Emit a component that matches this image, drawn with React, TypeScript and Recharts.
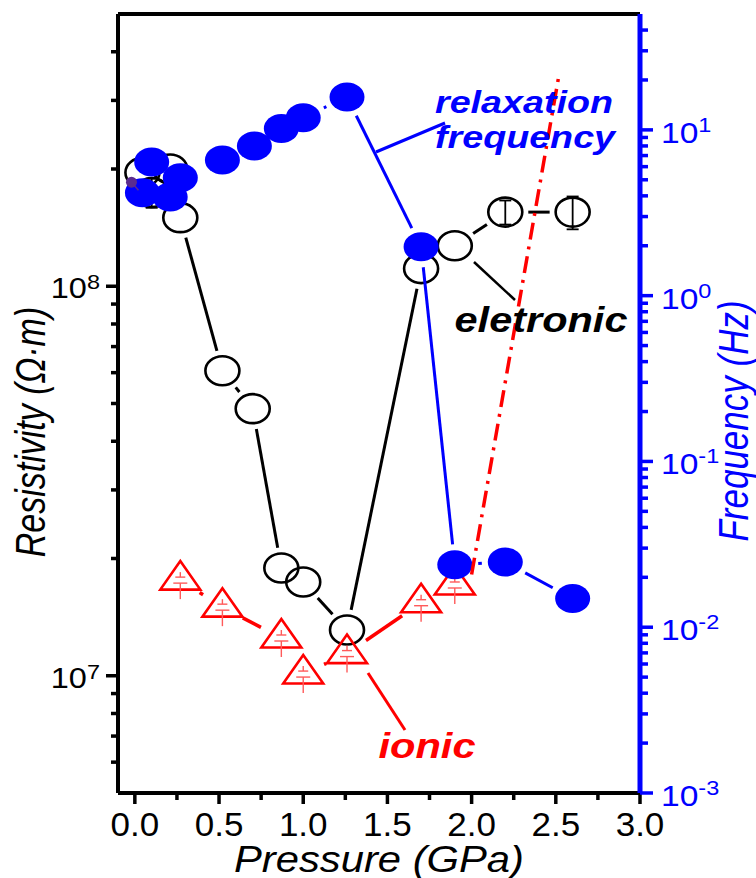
import React from 'react';
import { ComposedChart, Scatter, XAxis, YAxis, ErrorBar, ReferenceLine } from 'recharts';

const FONT = '"Liberation Sans", Arial, Helvetica, sans-serif';
const BLUE = '#0000ff';
const RED = '#ff0000';

// electronic resistivity (open circles), Ohm*m
const elecPressure = [0.045, 0.1, 0.21, 0.27, 0.52, 0.7, 0.87, 1.0, 1.26, 1.7, 1.9, 2.2, 2.6];
const elecRes = [1.96e8, 1.74e8, 2.0e8, 1.5e8, 6.07e7, 4.85e7, 1.89e7, 1.74e7, 1.31e7, 1.11e8, 1.27e8, 1.55e8, 1.55e8];
const elecErr = [0, 1.5e7, 0, 0, 0, 0, 0, 0, 0, 0, 0, 1.1e7, 1.5e7];

// ionic resistivity (open triangles)
const ionPressure = [0.27, 0.52, 0.87, 1.0, 1.26, 1.7, 1.9];
const ionRes = [1.76e7, 1.5e7, 1.25e7, 1.01e7, 1.14e7, 1.54e7, 1.71e7];

// relaxation frequency (filled circles), Hz
const freqPressure = [0.045, 0.1, 0.21, 0.27, 0.52, 0.71, 0.87, 1.0, 1.26, 1.7, 1.9, 2.2, 2.6];
const freqHz = [4.17, 6.41, 3.93, 5.14, 6.59, 8.0, 10.2, 11.85, 15.8, 1.97, 0.0238, 0.0247, 0.0149];

// dash-dot extrapolation
const trendPressure = [2.0, 2.52];
const trendRes = [1.82e7, 3.51e8];

// small purple point at the origin
const markPressure = [-0.02];
const markRes = [1.85e8];

const xTicks = [0, 0.25, 0.5, 0.75, 1, 1.25, 1.5, 1.75, 2, 2.25, 2.5, 2.75, 3];
const xMajor = [0, 0.5, 1, 1.5, 2, 2.5, 3];
const leftTicks = [6e6, 7e6, 8e6, 9e6, 1e7, 2e7, 3e7, 4e7, 5e7, 6e7, 7e7, 8e7, 9e7, 1e8, 2e8, 3e8, 4e8];
const leftMajor = [1e7, 1e8];
const rightTicks = [
  1e-3, 2e-3, 3e-3, 4e-3, 5e-3, 6e-3, 7e-3, 8e-3, 9e-3,
  1e-2, 2e-2, 3e-2, 4e-2, 5e-2, 6e-2, 7e-2, 8e-2, 9e-2,
  1e-1, 2e-1, 3e-1, 4e-1, 5e-1, 6e-1, 7e-1, 8e-1, 9e-1,
  1, 2, 3, 4, 5, 6, 7, 8, 9,
  10, 20, 30, 40,
];
const rightMajor = [1e-3, 1e-2, 1e-1, 1, 10];

const elecData = elecPressure.map((p, i) => ({ x: p, y: elecRes[i], err: elecErr[i] }));
const elecErrData = elecData.filter((d) => d.err > 0);
const ionData = ionPressure.map((p, i) => ({ x: p, y: ionRes[i] }));
const freqData = freqPressure.map((p, i) => ({ x: p, y: freqHz[i] }));
const trendData = trendPressure.map((p, i) => ({ x: p, y: trendRes[i] }));
const markData = markPressure.map((p, i) => ({ x: p, y: markRes[i] }));

// Origin-style connecting line that stops short of each symbol
const gapLine = (color: string, width: number, rx: number, ry: number, extra: number) => (props: any) => {
  const pts = (props.points || []).map((p: any) => ({ x: p.x ?? p.cx, y: p.y ?? p.cy }));
  const segs = [];
  for (let i = 0; i < pts.length - 1; i++) {
    const a = pts[i];
    const b = pts[i + 1];
    const dx = b.x - a.x;
    const dy = b.y - a.y;
    const d = Math.hypot(dx, dy);
    if (!d) continue;
    const ux = dx / d;
    const uy = dy / d;
    const r = 1 / Math.sqrt((ux / rx) ** 2 + (uy / ry) ** 2) + extra;
    if (d <= 2 * r) continue;
    segs.push(
      <line key={i} x1={a.x + ux * r} y1={a.y + uy * r} x2={b.x - ux * r} y2={b.y - uy * r}
        stroke={color} strokeWidth={width} />
    );
  }
  return <g>{segs}</g>;
};

const dashLine = (props: any) => {
  const pts = (props.points || []).map((p: any) => ({ x: p.x ?? p.cx, y: p.y ?? p.cy }));
  const d = pts.map((p: any, i: number) => `${i ? 'L' : 'M'}${p.x},${p.y}`).join(' ');
  return <path d={d} fill="none" stroke={RED} strokeWidth={3.5} strokeDasharray="17 7 3 7" />;
};

const OpenCircle = (props: any) => (
  <ellipse cx={props.cx} cy={props.cy} rx={17} ry={14.5} fill="none" stroke="#000" strokeWidth={2.6} />
);

const BlueDot = (props: any) => (
  <ellipse cx={props.cx} cy={props.cy} rx={17.5} ry={14.5} fill={BLUE} />
);

const Triangle = (props: any) => {
  const { cx, cy } = props;
  return (
    <g>
      <path d={`M${cx},${cy - 19} L${cx + 20},${cy + 9.5} L${cx - 20},${cy + 9.5} Z`} fill="none" stroke={RED} strokeWidth={2.6} strokeLinejoin="miter" />
      <g stroke="#ff5a5a" strokeWidth={1.4}>
        <line x1={cx} x2={cx} y1={cy - 8} y2={cy - 3} />
        <line x1={cx - 5} x2={cx + 5} y1={cy - 3} y2={cy - 3} />
        <line x1={cx - 7} x2={cx + 7} y1={cy + 3} y2={cy + 3} />
        <line x1={cx} x2={cx} y1={cy + 3} y2={cy + 19} />
      </g>
    </g>
  );
};

const PurpleDot = (props: any) => (
  <g>
    <line x1={props.cx} y1={props.cy} x2={props.cx + 7} y2={props.cy + 8} stroke="#5b2c8f" strokeWidth={1.5} />
    <circle cx={props.cx} cy={props.cy} r={5.5} fill="#5b2c8f" />
  </g>
);

const Empty = () => <g />;

const SText = ({ x, y, sx = 1, sy = 1, rot = 0, anchor = 'middle', size, color = '#000', italic = false, bold = false, children }: any) => (
  <text transform={`translate(${x},${y}) rotate(${rot}) scale(${sx},${sy})`} x={0} y={0} textAnchor={anchor}
    fontFamily={FONT} fontSize={size} fill={color} fontStyle={italic ? 'italic' : 'normal'} fontWeight={bold ? 'bold' : 'normal'}>
    {children}
  </text>
);

const XTick = (props: any) => {
  const { x, y, payload } = props;
  const v = payload.value;
  const major = xMajor.includes(v);
  return (
    <g>
      <line x1={x} x2={x} y1={y} y2={y + (major ? 11 : 7)} stroke="#000" strokeWidth={3.5} />
      {major && <SText x={x} y={y + 43} size={34} sx={1.03}>{v.toFixed(1)}</SText>}
    </g>
  );
};

const LeftTick = (props: any) => {
  const { x, y, payload } = props;
  const v = payload.value;
  const major = leftMajor.includes(v);
  const exp = Math.round(Math.log10(v));
  return (
    <g>
      <line x1={x} x2={x - (major ? 12 : 7)} y1={y} y2={y} stroke="#000" strokeWidth={3.5} />
      {major && (
        <SText x={x - 18} y={y + 12} size={29} sx={1.12} anchor="end">
          10<tspan dy={-9} fontSize={21}>{exp}</tspan>
        </SText>
      )}
    </g>
  );
};

const RightTick = (props: any) => {
  const { x, y, payload } = props;
  const v = payload.value;
  const major = rightMajor.includes(v);
  const exp = Math.round(Math.log10(v));
  return (
    <g>
      <line x1={x} x2={x + (major ? 13 : 8)} y1={y} y2={y} stroke={BLUE} strokeWidth={3.5} />
      {major && (
        <SText x={x + 21} y={y + 13} size={30} sx={1.12} anchor="start" color={BLUE}>
          10<tspan dy={-11} fontSize={21}>{exp}</tspan>
        </SText>
      )}
    </g>
  );
};

export default function App() {
  return (
    <div style={{ position: 'absolute', left: 0, top: 0, width: 756, height: 878, background: '#fff' }}>
      <ComposedChart width={756} height={878} margin={{ top: 14, right: 0, bottom: 0, left: 0 }}>
        <XAxis
          dataKey="x"
          type="number"
          domain={[-0.1, 3]}
          allowDataOverflow
          ticks={xTicks}
          interval={0}
          tickSize={0}
          tickMargin={0}
          tickLine={false}
          tick={<XTick />}
          height={85}
          axisLine={{ stroke: '#000', strokeWidth: 4 }}
          label={{
            content: (p: any) => {
              const vb = p.viewBox || { x: 118, y: 793, width: 522 };
              return (
                <SText x={vb.x + vb.width / 2} y={vb.y + 79} size={36} sx={1.16} italic>
                  Pressure (GPa)
                </SText>
              );
            },
          }}
        />
        <YAxis
          yAxisId="left"
          orientation="left"
          scale="log"
          type="number"
          domain={[5e6, 5e8]}
          allowDataOverflow
          ticks={leftTicks}
          interval={0}
          tickSize={0}
          tickMargin={0}
          tickLine={false}
          tick={<LeftTick />}
          width={118}
          axisLine={{ stroke: '#000', strokeWidth: 4 }}
          label={{
            content: (p: any) => {
              const vb = p.viewBox || { x: 0, y: 14, height: 779 };
              return (
                <SText x={vb.x + 45} y={432} rot={-90} sy={1.25} size={34} italic>
                  Resistivity (Ω·m)
                </SText>
              );
            },
          }}
        />
        <YAxis
          yAxisId="right"
          orientation="right"
          scale="log"
          type="number"
          domain={[1e-3, 50]}
          allowDataOverflow
          ticks={rightTicks}
          interval={0}
          tickSize={0}
          tickMargin={0}
          tickLine={false}
          tick={<RightTick />}
          width={116}
          axisLine={{ stroke: BLUE, strokeWidth: 5 }}
          label={{
            content: (p: any) => {
              const vb = p.viewBox || { x: 640, y: 14, height: 779 };
              return (
                <SText x={vb.x + 108} y={421} rot={-90} sy={1.2} size={35} italic color={BLUE}>
                  Frequency (Hz)
                </SText>
              );
            },
          }}
        />
        <ReferenceLine yAxisId="left" y={5e8} stroke="#000" strokeWidth={4} ifOverflow="visible" />

        <Scatter
          yAxisId="left"
          data={elecData}
          dataKey="y"
          shape={OpenCircle}
          line={gapLine('#000', 3, 17, 14.5, 6)}
          isAnimationActive={false}
        />
        <Scatter yAxisId="left" data={elecErrData} dataKey="y" shape={Empty} isAnimationActive={false}>
          <ErrorBar dataKey="err" direction="y" width={6} stroke="#000" strokeWidth={1.8} />
        </Scatter>
        <Scatter
          yAxisId="left"
          data={ionData}
          dataKey="y"
          shape={Triangle}
          line={gapLine(RED, 3.5, 17, 17, 6)}
          isAnimationActive={false}
        />
        <Scatter
          yAxisId="right"
          data={freqData}
          dataKey="y"
          shape={BlueDot}
          line={gapLine(BLUE, 3, 17.5, 14.5, 6)}
          isAnimationActive={false}
        />
        <Scatter yAxisId="left" data={trendData} dataKey="y" shape={Empty} line={dashLine} isAnimationActive={false} />
        <Scatter yAxisId="left" data={markData} dataKey="y" shape={PurpleDot} isAnimationActive={false} />
      </ComposedChart>

      <svg width={756} height={878} style={{ position: 'absolute', left: 0, top: 0, pointerEvents: 'none' }}>
        <line x1={445} y1={123} x2={376} y2={152} stroke={BLUE} strokeWidth={3} />
        <SText x={524} y={113} size={31} sx={1.216} bold italic color={BLUE}>relaxation</SText>
        <SText x={525} y={148} size={31} sx={1.216} bold italic color={BLUE}>frequency</SText>
        <line x1={474} y1={262} x2={515} y2={300} stroke="#000" strokeWidth={2.5} />
        <SText x={541} y={332} size={35} sx={1.186} bold italic>eletronic</SText>
        <line x1={368} y1={673} x2={405} y2={730} stroke={RED} strokeWidth={3} />
        <SText x={427} y={758} size={35} sx={1.19} bold italic color={RED}>ionic</SText>
      </svg>
    </div>
  );
}
